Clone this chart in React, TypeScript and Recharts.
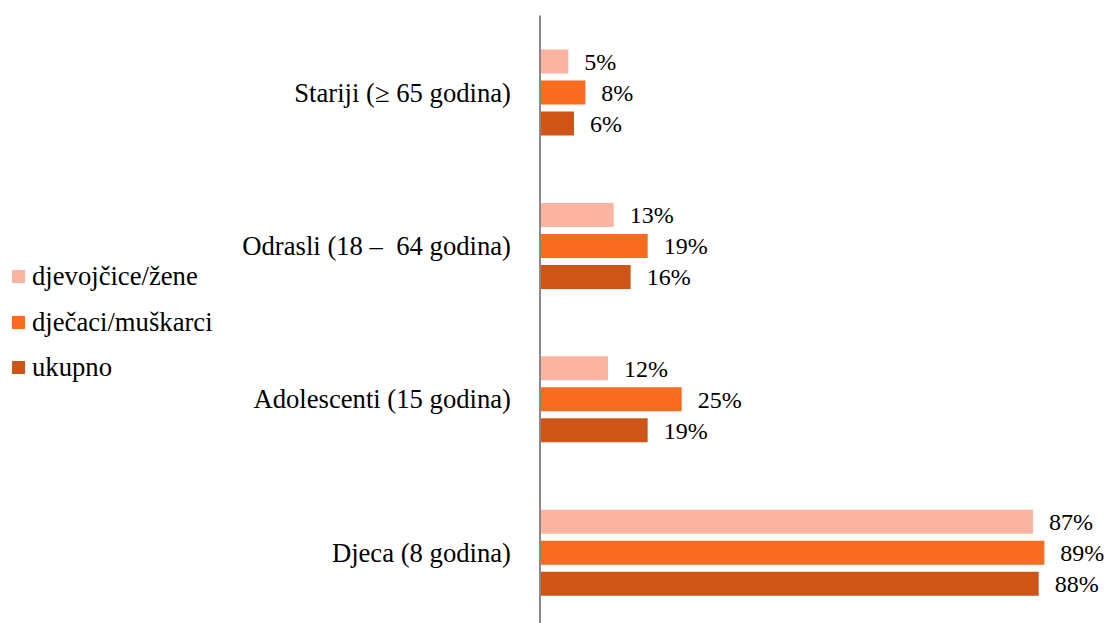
import React from 'react';
import { BarChart, Bar, XAxis, YAxis, LabelList } from 'recharts';

const categories = ['Stariji (≥ 65 godina)', 'Odrasli (18 –\u00a0 64 godina)', 'Adolescenti (15 godina)', 'Djeca (8 godina)'];
const zene = [5, 13, 12, 87];
const muskarci = [8, 19, 25, 89];
const ukupno = [6, 16, 19, 88];

const seriesNames = ['djevojčice/žene', 'dječaci/muškarci', 'ukupno'];
const colors = ['#FBB3A2', '#F96B1E', '#CD5517'];

const data = categories.map((c, i) => ({ name: c, zene: zene[i], muskarci: muskarci[i], ukupno: ukupno[i] }));

const FONT = '"Liberation Serif", "Times New Roman", serif';

const fmt = (v: any) => `${v}%`;

const labelProps = { position: 'right' as const, offset: 16, formatter: fmt, fontSize: 24, fill: '#000', fontFamily: FONT };

export default function App() {
  return (
    <div style={{ position: 'absolute', left: 0, top: 0, width: 1108, height: 623, overflow: 'hidden', background: '#fff' }}>
      <BarChart
        width={1108}
        height={629}
        data={data}
        layout="vertical"
        margin={{ top: 15.5, right: 1.3, bottom: 0, left: 0 }}
        barSize={24}
        barGap={7}
      >
        <XAxis type="number" domain={[0, 100]} hide />
        <YAxis
          type="category"
          dataKey="name"
          width={540}
          tickLine={false}
          tickSize={0}
          tickMargin={29}
          axisLine={{ stroke: '#898989', strokeWidth: 2 }}
          tick={{ fontSize: 26.67, fill: '#000', fontFamily: FONT }}
          interval={0}
        />
        <Bar dataKey="zene" name={seriesNames[0]} fill={colors[0]} isAnimationActive={false}>
          <LabelList dataKey="zene" {...labelProps} />
        </Bar>
        <Bar dataKey="muskarci" name={seriesNames[1]} fill={colors[1]} isAnimationActive={false}>
          <LabelList dataKey="muskarci" {...labelProps} />
        </Bar>
        <Bar dataKey="ukupno" name={seriesNames[2]} fill={colors[2]} isAnimationActive={false}>
          <LabelList dataKey="ukupno" {...labelProps} />
        </Bar>
      </BarChart>
      <div style={{ position: 'absolute', left: 0, top: 254, fontFamily: FONT, fontSize: 26.67, color: '#000' }}>
        {seriesNames.map((n, i) => (
          <div key={n} style={{ height: 45.5, display: 'flex', alignItems: 'center' }}>
            <span style={{ display: 'inline-block', width: 13, height: 13, background: colors[i], marginLeft: 12, marginRight: 7 }} />
            <span style={{ whiteSpace: 'nowrap' }}>{n}</span>
          </div>
        ))}
      </div>
    </div>
  );
}
